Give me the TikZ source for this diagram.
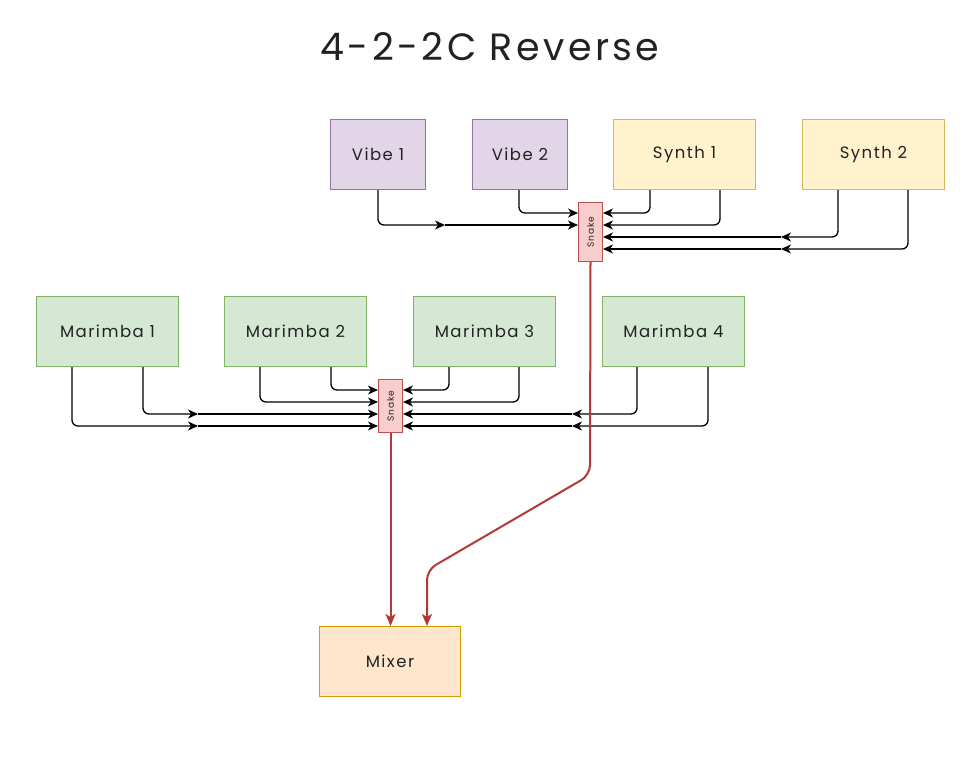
\documentclass[tikz,border=0pt]{standalone}
\usepackage{fontspec}
\setmainfont{Poppins}[LetterSpace=9]
\usetikzlibrary{arrows.meta}
\definecolor{pf}{HTML}{E1D5E7}\definecolor{pd}{HTML}{9673A6}
\definecolor{yf}{HTML}{FFF2CC}\definecolor{yd}{HTML}{D6B656}
\definecolor{gf}{HTML}{D5E8D4}\definecolor{gd}{HTML}{82B366}
\definecolor{rf}{HTML}{F8CECC}\definecolor{rd}{HTML}{B85450}
\definecolor{of}{HTML}{FFE6CC}\definecolor{od}{HTML}{D79B00}
\definecolor{rl}{HTML}{B0393A}
\definecolor{tx}{HTML}{222222}
\begin{document}
\begin{tikzpicture}[x=1pt,y=-1pt,text=tx,
 box/.style={draw,line width=1pt,minimum height=70pt,anchor=north west,inner sep=0pt,font=\fontsize{16.5}{16.5}\selectfont},
 vib/.style={box,fill=pf,draw=pd,minimum width=95pt},
 syn/.style={box,fill=yf,draw=yd,minimum width=142pt},
 mar/.style={box,fill=gf,draw=gd,minimum width=142pt},
 snake/.style={draw=rd,fill=rf,line width=1pt,anchor=north west,minimum width=24pt,inner sep=0pt},
 wire/.style={line width=1.3pt,rounded corners=6pt,-{Stealth[length=10pt,width=9pt,inset=3pt]}},
 tipw/.style={line width=1.3pt,-{Stealth[length=10pt,width=9pt,inset=3pt]}},
 feed/.style={draw=rl,line width=2pt,rounded corners=10pt,-{Stealth[length=12pt,width=10pt,inset=3pt]}}]
\useasboundingbox (0,0) rectangle (980,757);
\node[font=\fontsize{38}{38}\selectfont] (title) at (490,47) {4-2-2C Reverse};
\node[vib] (v1) at (330,119) {Vibe 1};
\node[vib] (v2) at (472,119) {Vibe 2};
\node[syn] (sy1) at (613,119) {Synth 1};
\node[syn] (sy2) at (802,119) {Synth 2};
\node[snake,minimum height=59pt] (sn1) at (578,202) {};
\node[rotate=90,font=\fontsize{9}{9}\selectfont] (sn1t) at (sn1.center) {Snake};
\node[mar] (m1) at (36,296) {Marimba 1};
\node[mar] (m2) at (224,296) {Marimba 2};
\node[mar] (m3) at (413,296) {Marimba 3};
\node[mar] (m4) at (602,296) {Marimba 4};
\node[snake,minimum height=53pt] (sn2) at (378,379) {};
\node[rotate=90,font=\fontsize{9}{9}\selectfont] (sn2t) at (sn2.center) {Snake};
\node[box,fill=of,draw=od,minimum width=141pt] (mx) at (319,626) {Mixer};
% upper
\coordinate (a1) at (445,225); \coordinate (a2) at (781,237); \coordinate (a3) at (781,249);
\draw[wire] (378,0 |- v1.south) |- (a1); \draw[tipw] (a1) -- (sn1.west |- a1);
\draw[wire] (519,0 |- v2.south) |- (sn1.west |- 0,213);
\draw[wire] (650,0 |- sy1.south) |- (sn1.east |- 0,213);
\draw[wire] (720,0 |- sy1.south) |- (sn1.east |- 0,225);
\draw[wire] (838,0 |- sy2.south) |- (a2); \draw[tipw] (a2) -- (sn1.east |- a2);
\draw[wire] (908,0 |- sy2.south) |- (a3); \draw[tipw] (a3) -- (sn1.east |- a3);
% lower
\coordinate (b1) at (198,414); \coordinate (b2) at (198,426);
\coordinate (b3) at (572,414); \coordinate (b4) at (572,426);
\draw[wire] (72,0 |- m1.south) |- (b2); \draw[tipw] (b2) -- (sn2.west |- b2);
\draw[wire] (143,0 |- m1.south) |- (b1); \draw[tipw] (b1) -- (sn2.west |- b1);
\draw[wire] (260,0 |- m2.south) |- (sn2.west |- 0,402);
\draw[wire] (331,0 |- m2.south) |- (sn2.west |- 0,390);
\draw[wire] (449,0 |- m3.south) |- (sn2.east |- 0,390);
\draw[wire] (519,0 |- m3.south) |- (sn2.east |- 0,402);
\draw[wire] (637,0 |- m4.south) |- (b3); \draw[tipw] (b3) -- (sn2.east |- b3);
\draw[wire] (708,0 |- m4.south) |- (b4); \draw[tipw] (b4) -- (sn2.east |- b4);
% feeds
\draw[feed] (sn2.south) -- (sn2.south |- mx.north);
\draw[feed] (sn1.south) -- (590,475) -- (427,570) -- (427,0 |- mx.north);
\end{tikzpicture}
\end{document}
